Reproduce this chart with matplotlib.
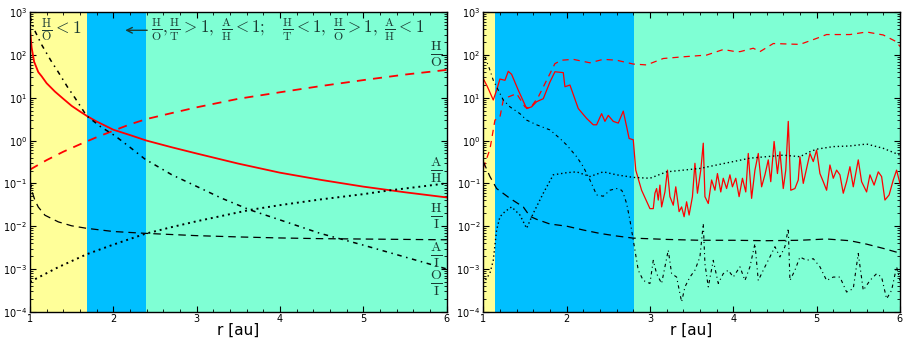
import numpy as np
import matplotlib
matplotlib.use("Agg")
import matplotlib.pyplot as plt

plt.rcParams['mathtext.fontset'] = 'cm'

# ---------------- left panel: smooth model curves ----------------
r_hs = [1.0, 1.02, 1.05, 1.1, 1.14, 1.2, 1.3, 1.4, 1.5, 1.6, 1.7, 1.8, 2.0, 2.2, 2.4,
        2.7, 3.0, 3.5, 4.0, 4.5, 5.0, 5.5, 6.0]
h_s = [400, 150, 70, 40, 32, 22, 14, 9.5, 6.5, 4.8, 3.6, 2.8, 1.8, 1.35, 1.0,
       0.7, 0.5, 0.29, 0.178, 0.12, 0.084, 0.062, 0.047]

r_ho = [1.0, 1.2, 1.4, 1.6, 1.8, 2.0, 2.2, 2.4, 2.7, 3.0, 3.5, 4.0, 4.5, 5.0, 5.5, 6.0]
h_o = [0.21, 0.35, 0.55, 0.82, 1.2, 1.7, 2.4, 3.2, 4.4, 6.0, 9.5, 13.5, 19, 26, 35, 45]

r_oi = [1.0, 1.05, 1.14, 1.25, 1.34, 1.45, 1.54, 1.68, 1.85, 2.02, 2.2, 2.38, 2.7, 3.0,
        3.3, 3.64, 4.0, 4.48, 5.0, 5.5, 6.0]
o_i = [800, 400, 175, 75, 40, 18, 10, 3.8, 2.1, 1.3, 0.7, 0.37, 0.16, 0.085,
       0.045, 0.024, 0.014, 0.0068, 0.0036, 0.0019, 0.001]

r_ai = [1.0, 1.03, 1.06, 1.1, 1.18, 1.34, 1.5, 1.68, 2.0, 2.38, 3.0, 3.5, 4.0, 4.5, 5.0, 6.0]
a_i = [0.12, 0.06, 0.04, 0.028, 0.018, 0.0126, 0.0102, 0.0089, 0.0075, 0.0068, 0.006,
       0.0056, 0.0053, 0.0051, 0.005, 0.0048]

r_ah = [1.0, 1.34, 1.68, 2.0, 2.38, 2.7, 3.0, 3.64, 4.0, 4.48, 5.0, 5.3, 6.0]
a_h = [0.0005, 0.0011, 0.0022, 0.0037, 0.0066, 0.0095, 0.013, 0.024, 0.031, 0.042,
       0.056, 0.068, 0.1]

# ---------------- right panel: simulated profiles (log10 values) ----------------
r2_hs = [1.00, 1.05, 1.12, 1.16, 1.20, 1.26, 1.30, 1.34, 1.42, 1.52, 1.58, 1.64, 1.72, 1.80,
         1.86, 1.96, 1.98, 2.04, 2.14, 2.24, 2.32, 2.36, 2.42, 2.46, 2.50, 2.56, 2.62, 2.68,
         2.72, 2.75, 2.80, 2.83, 2.90, 3.00, 3.04, 3.06, 3.08, 3.10, 3.12, 3.14, 3.18, 3.21,
         3.24, 3.28, 3.31, 3.35, 3.38, 3.41, 3.44, 3.47, 3.51, 3.54, 3.57, 3.61, 3.64, 3.66,
         3.70, 3.74, 3.78, 3.81, 3.85, 3.88, 3.92, 3.96, 3.99, 4.03, 4.07, 4.11, 4.15, 4.18,
         4.22, 4.26, 4.30, 4.34, 4.38, 4.42, 4.45, 4.49, 4.53, 4.56, 4.60, 4.63, 4.66, 4.69,
         4.74, 4.78, 4.80, 4.84, 4.88, 4.92, 4.96, 5.00, 5.04, 5.08, 5.12, 5.16, 5.20, 5.24,
         5.28, 5.32, 5.36, 5.40, 5.44, 5.50, 5.54, 5.60, 5.64, 5.69, 5.74, 5.78, 5.82, 5.87,
         5.92, 5.96, 6.00]
lg2_hs = [1.45, 1.26, 0.95, 1.18, 1.44, 1.41, 1.62, 1.55, 1.18, 0.75, 0.79, 0.91, 0.98, 1.37,
          1.61, 1.59, 1.26, 1.30, 0.75, 0.52, 0.37, 0.37, 0.63, 0.45, 0.59, 0.45, 0.41, 0.69,
          0.33, 0.05, 0.02, -0.69, -1.16, -1.59, -1.59, -1.23, -1.12, -1.39, -1.04, -1.55,
          -1.20, -0.69, -1.31, -1.51, -1.08, -1.66, -1.55, -1.78, -1.43, -1.74, -1.31, -0.53,
          -1.23, -0.69, -0.06, -1.31, -1.47, -0.92, -1.16, -0.77, -1.20, -0.88, -1.12, -0.80,
          -1.08, -0.88, -1.31, -0.88, -1.20, -0.30, -1.35, -0.69, -0.30, -1.08, -0.80, -0.45,
          -0.96, -0.02, -0.77, -0.26, -1.12, -0.69, 0.45, -1.16, -1.12, -0.92, -0.38, -1.00,
          -0.65, -0.30, -0.49, -0.22, -0.77, -0.96, -1.16, -0.57, -0.88, -0.69, -0.80, -1.23,
          -0.96, -0.61, -1.08, -0.45, -0.96, -1.20, -0.80, -1.04, -0.73, -0.84, -1.39, -1.27,
          -0.92, -0.69, -1.00]

r2_ho = [1.00, 1.08, 1.14, 1.20, 1.24, 1.30, 1.40, 1.50, 1.56, 1.66, 1.76, 1.86, 1.94, 2.08,
         2.28, 2.44, 2.60, 2.80, 2.96, 3.16, 3.40, 3.68, 3.88, 4.00, 4.08, 4.24, 4.32, 4.48,
         4.80, 5.00, 5.12, 5.40, 5.60, 5.80, 5.96, 6.00]
lg2_ho = [-0.65, -0.2, 0.48, 0.55, 0.95, 1.02, 1.10, 0.79, 0.75, 1.02, 1.41, 1.80, 1.88, 1.90,
          1.82, 1.90, 1.88, 1.79, 1.77, 1.92, 1.96, 2.00, 2.13, 2.09, 2.08, 2.16, 2.08, 2.27,
          2.25, 2.39, 2.48, 2.48, 2.54, 2.47, 2.31, 2.20]

r2_ah = [1.00, 1.08, 1.12, 1.16, 1.20, 1.26, 1.34, 1.44, 1.52, 1.60, 1.72, 1.84, 2.00, 2.12,
         2.28, 2.44, 2.60, 2.80, 3.00, 3.20, 3.40, 3.60, 3.80, 4.00, 4.20, 4.40, 4.60, 4.80,
         4.92, 5.00, 5.20, 5.40, 5.60, 5.80, 6.00]
lg2_ah = [-3.34, -3.10, -2.80, -2.09, -1.78, -1.66, -1.55, -1.74, -2.05, -1.70, -1.23, -0.80,
          -0.75, -0.73, -0.84, -0.73, -0.80, -0.86, -0.88, -0.73, -0.69, -0.65, -0.57, -0.49,
          -0.41, -0.375, -0.34, -0.375, -0.26, -0.20, -0.14, -0.125, -0.08, -0.18, -0.34]

r2_ai = [1.00, 1.08, 1.16, 1.32, 1.48, 1.56, 1.64, 1.80, 2.00, 2.20, 2.40, 2.60, 2.80, 3.20,
         3.60, 4.00, 4.40, 4.80, 5.12, 5.40, 5.60, 5.80, 6.00]
lg2_ai = [-0.49, -0.84, -1.12, -1.35, -1.55, -1.77, -1.84, -1.95, -2.00, -2.09, -2.17, -2.23,
          -2.28, -2.31, -2.33, -2.33, -2.34, -2.33, -2.30, -2.34, -2.42, -2.52, -2.63]

r2_oi = [1.02, 1.08, 1.12, 1.18, 1.24, 1.32, 1.44, 1.52, 1.64, 1.80, 1.92, 2.00, 2.12, 2.20,
         2.28, 2.36, 2.44, 2.52, 2.60, 2.66, 2.68, 2.72, 2.76, 2.86, 2.92, 3.00, 3.04, 3.08,
         3.14, 3.18, 3.22, 3.26, 3.32, 3.38, 3.42, 3.48, 3.54, 3.60, 3.64, 3.66, 3.70, 3.76,
         3.82, 3.88, 3.94, 4.00, 4.08, 4.14, 4.20, 4.26, 4.30, 4.38, 4.44, 4.50, 4.56, 4.62,
         4.66, 4.68, 4.74, 4.80, 4.88, 4.96, 5.04, 5.12, 5.20, 5.28, 5.36, 5.44, 5.50, 5.56,
         5.64, 5.72, 5.78, 5.84, 5.90, 5.96, 6.00]
lg2_oi = [1.96, 1.65, 1.41, 1.18, 0.95, 0.79, 0.63, 0.48, 0.37, 0.25, 0.05, -0.10, -0.375,
          -0.61, -0.92, -1.27, -1.30, -1.16, -1.12, -1.16, -1.23, -1.47, -1.86, -3.03, -3.27,
          -3.34, -2.80, -3.11, -3.34, -2.95, -2.56, -3.11, -3.19, -3.77, -3.42, -3.19, -3.03,
          -2.72, -1.94, -2.88, -3.42, -2.80, -3.34, -3.11, -3.03, -3.19, -2.95, -3.27, -2.95,
          -2.41, -3.27, -2.95, -2.72, -2.48, -2.72, -2.48, -2.05, -3.27, -3.03, -2.72, -2.80,
          -2.76, -2.95, -3.27, -3.19, -3.19, -3.54, -3.46, -2.64, -3.50, -3.27, -3.11, -3.19,
          -3.70, -3.50, -2.95, -3.27]

# region boundaries (r in au)
left_edges = [1.68, 2.39]
right_edges = [1.14, 2.81]

YELLOW = '#ffff99'
BLUE = '#00bfff'
AQUA = '#7fffd4'
TXT = '#1b3b33'
dashdot = (0, (3, 3, 1, 3))

fig = plt.figure(figsize=(9.05, 3.42), dpi=100)
ax1 = fig.add_axes([0.0331, 0.0886, 0.4604, 0.8754])
ax2 = fig.add_axes([0.534, 0.0886, 0.4604, 0.8754])


def style(ax, edges):
    ax.set_yscale('log')
    ax.set_xlim(1, 6)
    ax.set_ylim(1e-4, 1e3)
    ax.axvspan(1, edges[0], color=YELLOW, lw=0, zorder=0)
    ax.axvspan(edges[0], edges[1], color=BLUE, lw=0, zorder=0)
    ax.axvspan(edges[1], 6, color=AQUA, lw=0, zorder=0)
    ax.set_xticks([1, 2, 3, 4, 5, 6])
    ax.set_xticks(np.arange(1, 6.01, 0.2), minor=True)
    ax.set_yticks([1e-4, 1e-3, 1e-2, 1e-1, 1e0, 1e1, 1e2, 1e3])
    ax.tick_params(which='both', direction='in', top=True, right=True, labelsize=7, pad=2)
    ax.tick_params(which='major', length=4)
    ax.tick_params(which='minor', length=2)
    ax.set_xlabel('r [au]', fontsize=11, labelpad=-1)
    for s in ax.spines.values():
        s.set_linewidth(1.0)


style(ax1, left_edges)
style(ax2, right_edges)

# left panel
ax1.plot(r_hs, h_s, color='red', lw=1.3)
ax1.plot(r_ho, h_o, color='red', lw=1.3, ls=(0, (5, 4)))
ax1.plot(r_oi, o_i, color='black', lw=1.1, ls=dashdot)
ax1.plot(r_ai, a_i, color='black', lw=0.9, ls=(0, (6, 4)))
ax1.plot(r_ah, a_h, color='black', lw=1.4, ls=(0, (1, 2)))

ax1.text(1.13, 380, r'$\frac{\mathrm{H}}{\mathrm{O}} < 1$', fontsize=12.5, color=TXT,
         va='center', ha='left')
ax1.annotate('', xy=(2.11, 380), xytext=(2.44, 380),
             arrowprops=dict(arrowstyle='->', color=TXT, lw=1.0))
ax1.text(2.45, 380,
         r'$\frac{\mathrm{H}}{\mathrm{O}},\frac{\mathrm{H}}{\mathrm{T}} > 1,\ '
         r'\frac{\mathrm{A}}{\mathrm{H}} < 1;\quad \frac{\mathrm{H}}{\mathrm{T}} < 1,\ '
         r'\frac{\mathrm{H}}{\mathrm{O}} > 1,\ \frac{\mathrm{A}}{\mathrm{H}} < 1$',
         fontsize=12.2, color=TXT, va='center', ha='left')

labels = [('H', 'O', 105), ('A', 'H', 0.2), ('H', 'I', 0.0174), ('A', 'I', 0.0021),
          ('O', 'I', 0.00048)]
for num, den, yv in labels:
    ax1.text(5.88, yv, r'$\frac{\mathrm{%s}}{\mathrm{%s}}$' % (num, den), fontsize=14.5,
             color=TXT, ha='center', va='center')

# right panel
ax2.plot(r2_hs, np.power(10.0, lg2_hs), color='red', lw=0.9)
ax2.plot(r2_ho, np.power(10.0, lg2_ho), color='red', lw=0.9, ls=(0, (5, 4)))
ax2.plot(r2_ah, np.power(10.0, lg2_ah), color='black', lw=1.0, ls=(0, (1, 2)))
ax2.plot(r2_ai, np.power(10.0, lg2_ai), color='black', lw=0.9, ls=(0, (6, 4)))
ax2.plot(r2_oi, np.power(10.0, lg2_oi), color='black', lw=0.8, ls=dashdot)

fig.savefig('out.png', dpi=100)
